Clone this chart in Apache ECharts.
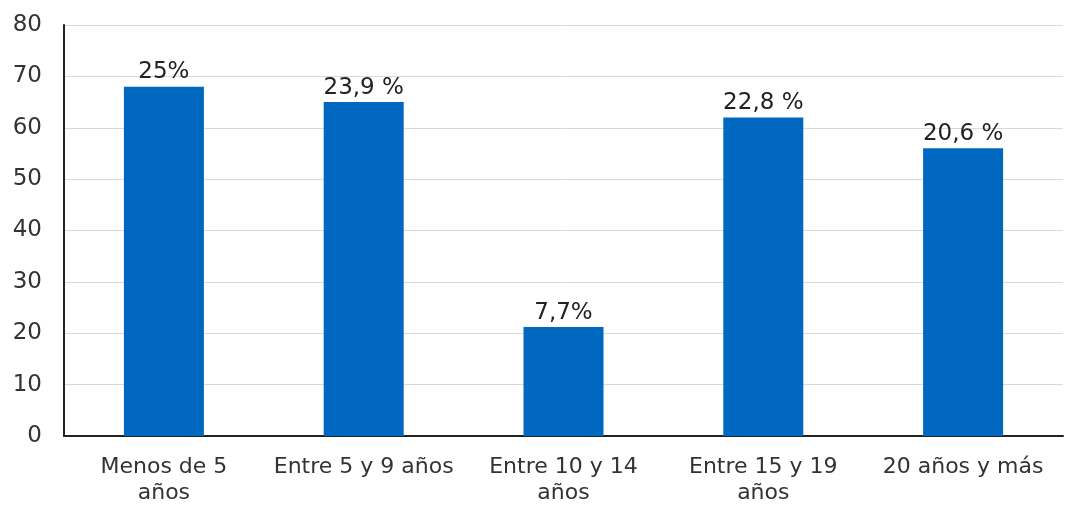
<!DOCTYPE html>
<html>
<head>
<meta charset="utf-8">
<script src="https://cdn.jsdelivr.net/npm/echarts@6/dist/echarts.min.js"></script>
<style>
	html, body {margin:0; padding:0; background:#fff;}
	#chart {width:1065px; height:506px;}
</style>
</head>
<body>
<div id="chart"></div>
<script>
	var categories = ['Menos de 5\naños', 'Entre 5 y 9 años', 'Entre 10 y 14\naños', 'Entre 15 y 19\naños', '20 años y más'];
	var values = [68, 65, 21.2, 62, 56];
	var pctLabels = ['25%', '23,9 %', '7,7%', '22,8 %', '20,6 %'];

	var myChart = echarts.init(document.getElementById('chart'));
	var font = 'Verdana, "DejaVu Sans", sans-serif';
	var option = {
		animation: false,
		grid: {left: 64, right: 2, top: 25, bottom: 70},
		xAxis: {
			type: 'category',
			data: categories,
			axisLine: {lineStyle: {color: '#222', width: 2}},
			axisTick: {show: false},
			axisLabel: {color: '#333', fontSize: 22, fontFamily: font, lineHeight: 26, margin: 18, interval: 0}
		},
		yAxis: {
			type: 'value',
			min: 0, max: 80, interval: 10,
			axisLine: {show: true, lineStyle: {color: '#222', width: 2}},
			axisTick: {show: false},
			axisLabel: {color: '#333', fontSize: 23, fontFamily: font, margin: 22},
			splitLine: {lineStyle: {color: '#d9d9d9', width: 1}}
		},
		series: [{
			type: 'bar',
			data: values,
			barWidth: 80,
			itemStyle: {color: '#0068c0'},
			label: {
				show: true,
				position: 'top',
				distance: 3,
				color: '#222',
				fontSize: 23,
				fontFamily: font,
				formatter: function (p) { return pctLabels[p.dataIndex]; }
			}
		}]
	};
	myChart.setOption(option);
</script>
</body>
</html>
